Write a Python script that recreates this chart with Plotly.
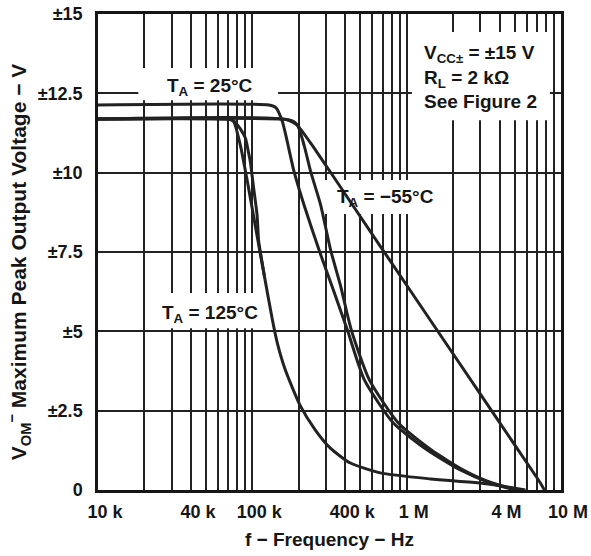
import plotly.graph_objects as go

# Maximum peak output voltage vs frequency (VCC± = ±15 V, RL = 2 kΩ)
# Frequencies in Hz, voltages in volts (peak).

freq_25c = [1e4, 1.28e5, 1.42e5, 1.565e5, 1.864e5, 2.163e5, 2.706e5, 3.35e5,
            4.13e5, 5.32e5, 8.2e5, 1.362e6, 2.228e6, 3.487e6, 5.06e6]
vom_25c = [12.13, 12.13, 12.05, 11.61, 10.03, 8.98, 7.56, 6.30,
           5.04, 3.47, 2.11, 1.26, 0.63, 0.22, 0.0]

freq_m55c_a = [1e4, 1.637e5, 1.957e5, 2.163e5, 2.388e5, 2.772e5, 3.217e5, 3.718e5,
               4.381e5, 5.732e5, 8.836e5, 1.446e6, 2.331e6, 3.592e6, 5.296e6]
vom_m55c_a = [11.69, 11.68, 11.49, 10.87, 10.03, 8.98, 7.56, 6.46,
              5.04, 3.47, 2.11, 1.26, 0.63, 0.22, 0.0]

freq_m55c_b = [1e4, 1.637e5, 1.872e5, 2.047e5, 2.485e5, 3.203e5, 6.752e5,
               1.424e6, 3.004e6, 5.064e6, 7.354e6, 7.806e6]
vom_m55c_b = [11.69, 11.68, 11.60, 11.38, 10.81, 10.02, 7.68,
              5.35, 3.02, 1.39, 0.22, 0.0]

freq_125c_a = [1e4, 7.095e4, 7.565e4, 8.36e4, 9.46e4, 1.073e5, 1.197e5, 1.342e5,
               1.452e5, 1.637e5, 2.047e5, 2.561e5, 3.203e5, 4.317e5, 6.752e5,
               1.424e6, 3.004e6, 4.05e6, 5.88e6]
vom_125c_a = [11.69, 11.68, 11.61, 10.87, 9.51, 8.01, 6.74, 5.42,
              4.63, 3.78, 2.65, 1.89, 1.32, 0.85, 0.54,
              0.35, 0.22, 0.13, 0.0]

freq_125c_b = [1e4, 7.095e4, 7.565e4, 8.36e4, 9.01e4, 9.46e4, 9.71e4, 1.02e5,
               1.073e5, 1.099e5, 1.144e5, 1.197e5]
vom_125c_b = [11.69, 11.68, 11.64, 11.38, 11.09, 10.62, 10.34, 9.51,
              8.67, 7.84, 7.31, 6.74]

x_tick_vals = [1e4, 4e4, 1e5, 4e5, 1e6, 4e6, 1e7]
x_tick_text = ["10 k", "40 k", "100 k", "400 k", "1 M", "4 M", "10 M"]
y_tick_vals = [0, 2.5, 5, 7.5, 10, 12.5, 15]
y_tick_text = ["0", "±2.5", "±5", "±7.5", "±10", "±12.5", "±15"]

X_RANGE = (4, 7)      # log10 of Hz
Y_RANGE = (0, 15)

FONT = "Liberation Sans, Arial, Helvetica, sans-serif"
INK = "#161616"
GRID = "#222222"
CURVE = "#222222"

fig = go.Figure()

# White panels behind the labels: drawn as the first traces so they hide the
# grid but stay underneath the curves.  Given as plot-area fractions.
panels = [
    (0.087, 0.819, 0.389, 0.8866),   # 25 °C label
    (0.480, 0.580, 0.750, 0.651),    # -55 °C label
    (0.113, 0.340, 0.361, 0.414),    # 125 °C label
    (0.678, 0.777, 0.976, 0.962),    # test conditions
]


def frac_to_data(fx, fy):
    lx = X_RANGE[0] + fx * (X_RANGE[1] - X_RANGE[0])
    return 10 ** lx, Y_RANGE[0] + fy * (Y_RANGE[1] - Y_RANGE[0])


for x0, y0, x1, y1 in panels:
    (ax0, ay0), (ax1, ay1) = frac_to_data(x0, y0), frac_to_data(x1, y1)
    fig.add_trace(go.Scatter(
        x=[ax0, ax1, ax1, ax0, ax0], y=[ay0, ay0, ay1, ay1, ay0],
        mode="lines", fill="toself", fillcolor="white",
        line=dict(width=0, color="white"),
        hoverinfo="skip", showlegend=False,
    ))

curves = [
    (freq_25c, vom_25c),
    (freq_m55c_a, vom_m55c_a),
    (freq_m55c_b, vom_m55c_b),
    (freq_125c_a, vom_125c_a),
    (freq_125c_b, vom_125c_b),
]
for f, v in curves:
    fig.add_trace(go.Scatter(
        x=f, y=v, mode="lines",
        line=dict(color=CURVE, width=3, shape="spline", smoothing=0.6),
        hoverinfo="skip", showlegend=False,
    ))

label_font = dict(family=FONT, size=19, color=INK, weight="bold")
fig.add_annotation(text="T<sub>A</sub> = 25°C", xref="paper", yref="paper",
                   x=0.2424, y=0.8466, showarrow=False, font=label_font,
                   xanchor="center", yanchor="middle")
fig.add_annotation(text="T<sub>A</sub> = −55°C", xref="paper", yref="paper",
                   x=0.620, y=0.613, showarrow=False, font=label_font,
                   xanchor="center", yanchor="middle")
fig.add_annotation(text="T<sub>A</sub> = 125°C", xref="paper", yref="paper",
                   x=0.2424, y=0.3697, showarrow=False, font=label_font,
                   xanchor="center", yanchor="middle")
fig.add_annotation(text="V<sub>CC±</sub> = ±15 V<br>R<sub>L</sub> = 2 kΩ<br>See Figure 2",
                   xref="paper", yref="paper", x=0.700, y=0.945,
                   showarrow=False, font=label_font, align="left",
                   xanchor="left", yanchor="top")

# vertical axis title, centred a little below the middle of the plot
fig.add_annotation(text="V<sub>OM</sub><sup>−</sup> Maximum Peak Output Voltage − V",
                   xref="paper", yref="paper", x=-0.170, y=0.479,
                   textangle=-90, showarrow=False,
                   font=dict(family=FONT, size=21, color=INK, weight="bold"),
                   xanchor="center", yanchor="middle")

fig.update_xaxes(
    type="log", range=list(X_RANGE),
    tickmode="array", tickvals=x_tick_vals, ticktext=x_tick_text,
    ticks="", ticklabelstandoff=4, ticklabelshift=7,
    tickfont=dict(family=FONT, size=18, color=INK, weight="bold"),
    showgrid=True, gridcolor=GRID, gridwidth=1.5,
    minor=dict(dtick="D1", showgrid=True, gridcolor=GRID, gridwidth=1.5, ticks=""),
    showline=True, mirror=True, linecolor=INK, linewidth=2.5,
    zeroline=False,
    title=dict(text="f − Frequency − Hz", standoff=12,
               font=dict(family=FONT, size=19, color=INK, weight="bold")),
)
fig.update_yaxes(
    range=list(Y_RANGE),
    tickmode="array", tickvals=y_tick_vals, ticktext=y_tick_text,
    ticks="", ticklabelstandoff=9,
    tickfont=dict(family=FONT, size=18, color=INK, weight="bold"),
    showgrid=True, gridcolor=GRID, gridwidth=1.5,
    showline=True, mirror=True, linecolor=INK, linewidth=2.5,
    zeroline=False,
)

fig.update_layout(
    width=591, height=556,
    margin=dict(l=98, r=30, t=14, b=66, autoexpand=False),
    paper_bgcolor="white", plot_bgcolor="white",
    showlegend=False,
)

fig.write_html("out.html")
